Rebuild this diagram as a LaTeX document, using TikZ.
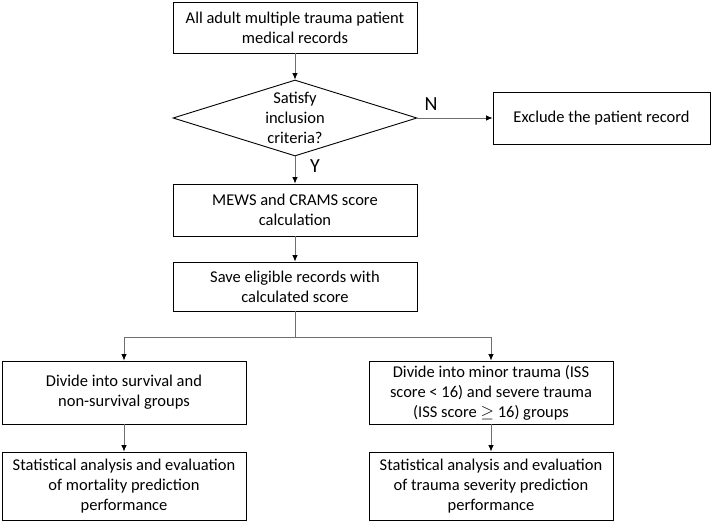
\documentclass[tikz,border=0pt]{standalone}
\usepackage{fontspec}
\setmainfont{Carlito}
\usetikzlibrary{shapes.geometric,arrows.meta}
\begin{document}
\begin{tikzpicture}[x=1pt,y=-1pt,
  every node/.style={font=\fontsize{16.5}{20}\selectfont},
  box/.style={draw=black,line width=0.9pt,rectangle,align=center,inner sep=0pt,minimum width=244pt},
  conn/.style={draw={rgb,255:red,110;green,110;blue,110},line width=0.8pt},
  arr/.style={conn,-{Latex[black,length=6.5pt,width=5.5pt]}},
  lbl/.style={inner sep=0pt,font=\fontsize{20}{24}\selectfont}]
\useasboundingbox (0,0) rectangle (712,522);
\node[box,minimum height=51pt] (top) at (295,27.5) {All adult multiple trauma patient\\medical records};
\node[draw=black,line width=0.9pt,diamond,inner sep=0pt,minimum width=244pt,minimum height=76pt] (dia) at (295,118) {};
\node[align=center,inner sep=0pt] (diat) at (dia.center) {Satisfy\\inclusion\\criteria?};
\node[box,minimum width=217pt,minimum height=52pt] (ex) at (601.5,118) {Exclude the patient record};
\node[box,minimum height=52pt] (b2) at (295,210) {MEWS and CRAMS score\\calculation};
\node[box,minimum height=49pt] (b3) at (295,286.5) {Save eligible records with\\calculated score};
\coordinate (j) at (295,337);
\node[box,minimum height=63pt] (l1) at (124,392.5) {Divide into survival and\\non-survival groups};
\node[box,minimum height=63pt] (r1) at (491,392.5) {Divide into minor trauma (ISS\\score < 16) and severe trauma\\(ISS score $\geq$ 16) groups};
\node[box,minimum height=68pt] (l2) at (124,486) {Statistical analysis and evaluation\\of mortality prediction\\performance};
\node[box,minimum height=68pt] (r2) at (491,486) {Statistical analysis and evaluation\\of trauma severity prediction\\performance};
\node[lbl] (n) at (431,104) {N};
\node[lbl] (y) at (315,166) {Y};
\draw[arr] (top) -- (dia);
\draw[arr] (dia.east) -- (ex.west);
\draw[arr] (dia.south) -- (b2.north);
\draw[arr] (b2) -- (b3);
\draw[conn] (b3.south) -- (j);
\draw[arr] (j) -| (l1.north);
\draw[arr] (j) -| (r1.north);
\draw[arr] (l1) -- (l2);
\draw[arr] (r1) -- (r2);
\end{tikzpicture}
\end{document}
